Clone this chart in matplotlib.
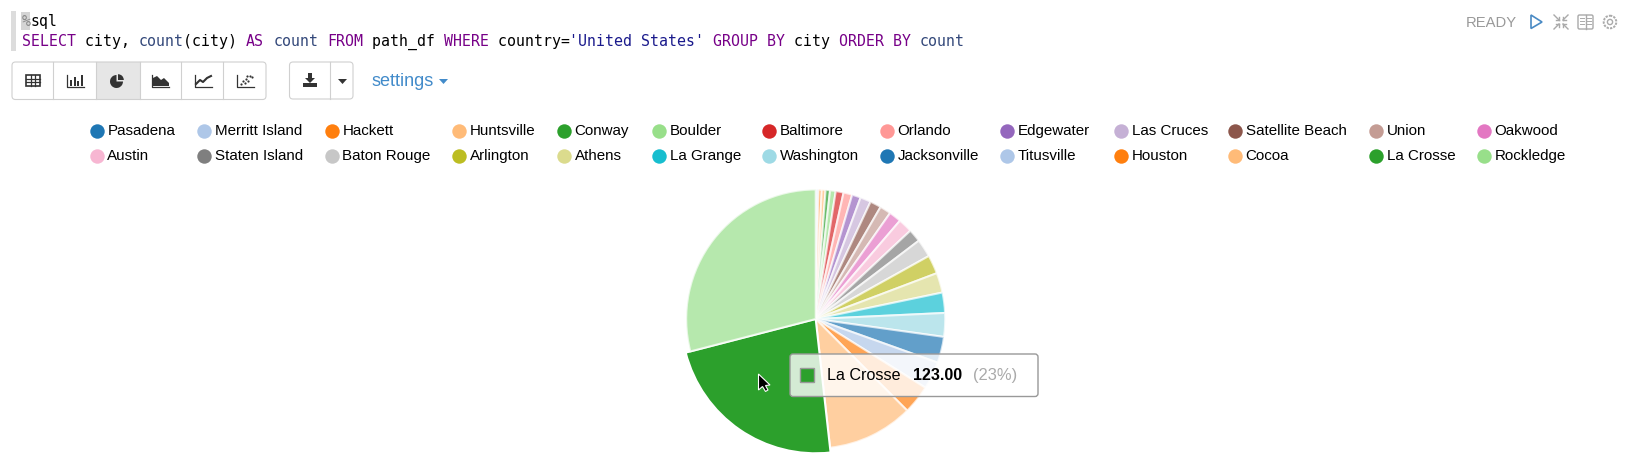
import matplotlib
matplotlib.use("Agg")
import matplotlib.pyplot as plt
from matplotlib.patches import FancyBboxPatch, Polygon, Rectangle, Wedge, Circle

cities = ["Pasadena", "Merritt Island", "Hackett", "Huntsville", "Conway", "Boulder", "Baltimore",
          "Orlando", "Edgewater", "Las Cruces", "Satellite Beach", "Union", "Oakwood",
          "Austin", "Staten Island", "Baton Rouge", "Arlington", "Athens", "La Grange", "Washington",
          "Jacksonville", "Titusville", "Houston", "Cocoa", "La Crosse", "Rockledge"]
counts = [1, 1, 2, 2.6, 3, 3.8, 5.3, 5.9, 5.9, 7.2, 7.5, 7.5, 8.3,
          9.6, 8.7, 12.2, 12.6, 13.4, 13.7, 16, 17.6, 18.6, 19.5, 58, 123, 157]
colors = ["#1f77b4", "#aec7e8", "#ff7f0e", "#ffbb78", "#2ca02c", "#98df8a", "#d62728",
          "#ff9896", "#9467bd", "#c5b0d5", "#8c564b", "#c49c94", "#e377c2",
          "#f7b6d2", "#7f7f7f", "#c7c7c7", "#bcbd22", "#dbdb8d", "#17becf", "#9edae5",
          "#1f77b4", "#aec7e8", "#ff7f0e", "#ffbb78", "#2ca02c", "#98df8a"]
hovered = "La Crosse"
tooltip_value = "123.00"
tooltip_pct = "(23%)"

# text runs of the sql line, with their colours
KEY = "#770088"
FUNC = "#33487a"
STR = "#1a1a8c"
sql_runs = [("SELECT", KEY), (" city, ", "black"), ("count", FUNC), ("(city) ", "black"), ("AS", KEY),
            (" ", "black"), ("count", FUNC), (" ", "black"), ("FROM", KEY), (" path_df ", "black"),
            ("WHERE", KEY), (" country=", "black"), ("'United States'", STR), (" ", "black"),
            ("GROUP BY", KEY), (" city ", "black"), ("ORDER BY", KEY), (" ", "black"), ("count", FUNC)]

W, H = 1632, 469
CHAR_W = 8.98
legend_x = [96.7, 204, 331.7, 459, 564, 659, 769, 887, 1007, 1121, 1235, 1376, 1484]
legend_y = [130.7, 155.7]
button_edges = [12, 53, 96, 139.5, 181, 223, 266]

plt.rcParams["font.family"] = ["Liberation Sans", "DejaVu Sans"]
fig = plt.figure(figsize=(W / 100, H / 100), dpi=100)

# pie: same pixel scale as the figure, y going down as negative
ax_pie = fig.add_axes([0, 0, 1, 1])
wedges, _ = ax_pie.pie(counts, colors=colors, startangle=90, counterclock=False,
                       center=(815.7, -319), radius=129.5, frame=True,
                       wedgeprops=dict(edgecolor="white", linewidth=1.5))
for w, city in zip(wedges, cities):
    if city == hovered:
        w.set_radius(134.3)
    else:
        w.set_alpha(0.7)
        w.set_edgecolor("white")
ax_pie.set_xlim(0, W)
ax_pie.set_ylim(-H, 0)
ax_pie.axis("off")

ax = fig.add_axes([0, 0, 1, 1], zorder=5)
ax.set_xlim(0, W)
ax.set_ylim(H, 0)
ax.axis("off")
ax.patch.set_alpha(0)

# code cell
ax.add_patch(Rectangle((11, 11), 5, 40, color="#dcdcdc", lw=0))
ax.add_patch(Rectangle((21, 12), 9, 18, color="#d4d4d4", lw=0))
ax.text(21.7, 21.5, "%", family="DejaVu Sans Mono", fontsize=10.74, color="#888888", va="center")
ax.text(21.7 + CHAR_W, 21.5, "sql", family="DejaVu Sans Mono", fontsize=10.74, color="black", va="center")
pos = 0
for run, col in sql_runs:
    ax.text(21.7 + pos * CHAR_W, 41.5, run, family="DejaVu Sans Mono", fontsize=10.74, color=col, va="center")
    pos += len(run)

ax.text(1466, 23, "READY", fontsize=10.6, color="#999999", va="center")
ax.add_patch(Polygon([(1531, 15), (1542, 22), (1531, 28.5)], fill=False, ec="#4a8ac4", lw=1.2))
for sx, sy in [(-1, -1), (1, -1), (-1, 1), (1, 1)]:
    ax.plot([1561 + sx * 2, 1561 + sx * 7], [22 + sy * 2, 22 + sy * 7], color="#aaaaaa", lw=1)
    ax.plot([1561 + sx * 2, 1561 + sx * 5], [22 + sy * 2, 22 + sy * 2], color="#aaaaaa", lw=1)
    ax.plot([1561 + sx * 2, 1561 + sx * 2], [22 + sy * 2, 22 + sy * 5], color="#aaaaaa", lw=1)
ax.add_patch(FancyBboxPatch((1578, 15), 15, 14, boxstyle="round,pad=0,rounding_size=1.5", fill=False, ec="#aaaaaa", lw=1))
ax.plot([1585.5, 1585.5], [15, 29], color="#aaaaaa", lw=1)
for yy in (18.5, 21.5, 24.5):
    ax.plot([1580, 1584], [yy, yy], color="#aaaaaa", lw=0.7)
    ax.plot([1587, 1591], [yy, yy], color="#aaaaaa", lw=0.7)
ax.add_patch(Circle((1610, 22), 6.3, fill=False, ec="#aaaaaa", lw=1.4, ls=(0, (1.2, 0.6))))
ax.add_patch(Circle((1610, 22), 2.6, fill=False, ec="#aaaaaa", lw=1))

# toolbar
ax.add_patch(Rectangle((button_edges[2], 62), button_edges[3] - button_edges[2], 37.5, color="#e6e6e6", lw=0))
ax.add_patch(FancyBboxPatch((12, 62), 254, 37.5, boxstyle="round,pad=0,rounding_size=3.5", fill=False, ec="#d0d0d0", lw=0.8))
for x in button_edges[1:-1]:
    ax.plot([x, x], [62, 99.5], color="#d0d0d0", lw=0.8)
ax.add_patch(FancyBboxPatch((289.5, 62), 63.5, 37, boxstyle="round,pad=0,rounding_size=3.5", fill=False, ec="#d0d0d0", lw=0.8))
ax.plot([329.5, 329.5], [62, 99], color="#d0d0d0", lw=0.8)

ICON = "#333333"
# table
ax.add_patch(Rectangle((26, 75), 14, 11, fill=False, ec=ICON, lw=1.2))
for yy in (78.7, 82.4):
    ax.plot([26, 40], [yy, yy], color=ICON, lw=0.9)
for xx in (30.7, 35.3):
    ax.plot([xx, xx], [75, 86], color=ICON, lw=0.9)
# bar, area, line and scatter icons share the axis corner
for x0 in (67, 152, 195, 237):
    ax.plot([x0, x0, x0 + 17], [75, 87, 87], color=ICON, lw=0.9)
for xx, top in zip((70, 73.5, 77, 80.5), (80, 77, 81, 75)):
    ax.add_patch(Rectangle((xx, top), 2, 86.5 - top, color=ICON, lw=0))
ax.add_patch(Polygon([(153, 86), (153, 78), (157, 76), (161, 80), (164, 78), (169, 83), (169, 86)], color=ICON, lw=0))
ax.plot([196, 200, 203, 207, 211], [84, 80, 82, 78, 76], color=ICON, lw=1.5)
ax.scatter([241, 243, 245, 246, 248, 250, 252, 247],
           [84, 81, 83, 79, 81, 76, 77, 76], s=2.5, color=ICON, lw=0)
# pie icon
ax.add_patch(Wedge((116.5, 81.5), 6.5, 0, 270, color=ICON, lw=0))
ax.add_patch(Wedge((118, 80), 5.8, 270, 360, color=ICON, lw=0))
# download + carets
ax.add_patch(Polygon([(308, 73), (312, 73), (312, 78), (315, 78), (310, 83), (305, 78), (308, 78)], color=ICON, lw=0))
ax.add_patch(Rectangle((303, 83), 14, 4.5, color=ICON, lw=0))
ax.add_patch(Polygon([(338, 79), (347, 79), (342.5, 84)], color=ICON, lw=0))
ax.text(371.5, 82, "settings", fontsize=13, color="#428bca", va="center")
ax.add_patch(Polygon([(439, 79), (448, 79), (443.5, 84)], color="#428bca", lw=0))

# legend: 13 columns, 2 rows
for i, (city, col) in enumerate(zip(cities, colors)):
    x = legend_x[i % 13]
    y = legend_y[i // 13]
    ax.scatter([x], [y], s=108, color=col, lw=0)
    ax.text(x + 10.6, y + 0.5, city, fontsize=10.9, color="black", va="center")

# tooltip
idx = cities.index(hovered)
ax.add_patch(FancyBboxPatch((790, 354), 248, 42.5, boxstyle="round,pad=0,rounding_size=3",
                            fc=(1, 1, 1, 0.8), ec="#999999", lw=1))
ax.add_patch(Rectangle((800, 368), 14, 14, fc=colors[idx], ec="#999999", lw=1))
ax.text(827, 375.5, hovered, fontsize=11.6, color="black", va="center")
ax.text(913, 375.5, tooltip_value, fontsize=11.5, color="black", fontweight="bold", va="center")
ax.text(973, 375.5, tooltip_pct, fontsize=11.9, color="#aaaaaa", va="center")

# mouse pointer
ax.add_patch(Polygon([(758.5, 374), (758.5, 390), (762.5, 386.5), (765.5, 391.5), (768, 390), (765.5, 385.5), (770, 385)],
                     fc="black", ec="white", lw=0.8, zorder=10))

fig.savefig("out.png", dpi=100)
plt.close(fig)
